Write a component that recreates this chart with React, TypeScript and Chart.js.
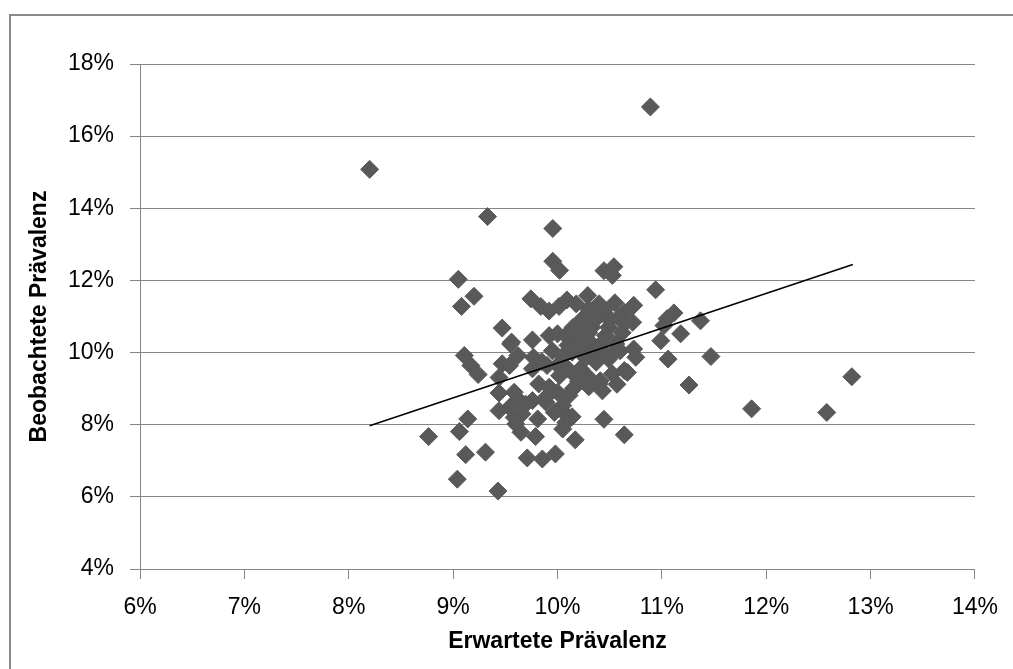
import React, { useEffect, useRef } from "react";
import { Chart, registerables } from "chart.js";

Chart.register(...registerables);

// Erwartete Prävalenz (%) – x values
const expected: number[] = [
  8.20, 10.89, 9.33, 9.955, 9.955, 10.02, 9.05, 9.20, 9.08, 10.445,
  10.54, 10.525, 10.94, 9.745, 9.84, 9.92, 10.015, 10.09, 10.29, 9.47,
  9.107, 9.17, 9.24, 9.55, 9.76, 9.47, 9.62, 9.44, 9.62, 9.44,
  9.585, 9.14, 9.06, 8.765, 9.65, 9.79, 9.12, 9.31, 9.71, 9.855,
  9.98, 9.04, 9.43, 10.05, 10.14, 10.05, 10.17, 9.89, 9.92, 9.76,
  10.40, 10.73, 10.64, 11.115, 11.05, 11.02, 11.37, 11.18, 10.99, 10.75,
  11.06, 11.47, 11.26, 11.86, 12.58, 12.82, 10.445, 10.64, 10.40, 10.57,
  10.67, 10.525, 10.37, 10.24, 10.59, 10.21, 10.33, 10.49, 10.64, 10.72,
  10.16, 10.30, 10.46, 10.56, 10.73, 9.56, 9.92, 10.00, 10.08, 10.14,
  9.77, 9.585, 9.54, 9.66, 9.60, 9.81, 9.89, 9.97, 10.05, 10.08,
  9.82, 9.76, 9.90, 10.02, 10.11, 9.54, 9.44, 10.64, 10.525, 10.41,
  10.43, 10.30, 10.17, 10.22, 10.37, 10.49, 9.695, 9.95, 10.05, 10.10,
  10.22, 10.27, 10.36, 10.42, 10.30, 10.15, 10.25, 10.36, 9.85, 10.00,
  10.10, 10.20, 10.30, 10.15, 10.00, 10.45, 10.60, 10.62, 10.45, 10.55,
  10.30, 10.18, 10.50, 10.445,
];

// Beobachtete Prävalenz (%) – y values
const observed: number[] = [
  15.08, 16.81, 13.77, 13.44, 12.53, 12.28, 12.03, 11.56, 11.28, 12.27,
  12.38, 12.14, 11.74, 11.49, 11.28, 11.15, 11.28, 11.46, 11.58, 10.68,
  9.92, 9.64, 9.39, 10.24, 10.35, 9.69, 9.92, 8.88, 8.71, 8.39,
  8.20, 8.16, 7.81, 7.67, 7.79, 7.67, 7.17, 7.24, 7.08, 7.05,
  7.19, 6.49, 6.16, 8.37, 8.22, 7.88, 7.58, 8.76, 9.04, 8.67,
  11.35, 11.31, 11.12, 11.10, 10.94, 10.75, 10.88, 10.52, 10.33, 9.87,
  9.82, 9.89, 9.10, 8.44, 8.34, 9.33, 8.15, 7.72, 9.13, 9.12,
  9.45, 9.96, 11.03, 10.94, 10.98, 10.56, 10.70, 10.70, 10.80, 10.84,
  10.24, 10.33, 10.47, 10.24, 10.10, 10.29, 10.47, 10.52, 10.47, 10.01,
  9.87, 8.90, 8.48, 8.30, 8.02, 8.16, 8.62, 8.34, 8.53, 8.06,
  9.13, 9.55, 9.64, 9.36, 8.81, 9.64, 9.31, 9.50, 9.41, 9.22,
  8.94, 9.31, 9.36, 9.55, 9.73, 9.82, 8.57, 10.05, 9.90, 10.20,
  10.10, 9.85, 10.05, 10.25, 10.55, 10.70, 10.85, 10.90, 9.75, 9.65,
  9.55, 9.20, 9.05, 9.00, 8.90, 10.00, 10.05, 10.55, 11.10, 11.38,
  11.20, 11.35, 10.90, 11.19,
];

// Linear trend line end points (%)
const trendX: number[] = [8.20, 12.83];
const trendY: number[] = [7.97, 12.44];

const xTitle = "Erwartete Prävalenz";
const yTitle = "Beobachtete Prävalenz";

const FONT = "'Liberation Sans', Arial, sans-serif";
const GRID = "#868686";

export default function App() {
  const ref = useRef<HTMLCanvasElement | null>(null);

  useEffect(() => {
    if (!ref.current) return;
    const points = expected.map((x, i) => ({ x, y: observed[i] }));
    const trend = trendX.map((x, i) => ({ x, y: trendY[i] }));
    const chart = new Chart(ref.current, {
      type: "scatter",
      data: {
        datasets: [
          {
            label: "Trend",
            data: trend,
            showLine: true,
            borderColor: "#000000",
            borderWidth: 1.5,
            pointRadius: 0,
            pointHoverRadius: 0,
            order: 0,
          },
          {
            label: "Prävalenz",
            data: points,
            pointStyle: "rectRot",
            pointRadius: 9,
            pointHoverRadius: 9,
            backgroundColor: "#595959",
            borderColor: "#595959",
            borderWidth: 1,
            order: 1,
          },
        ],
      },
      options: {
        responsive: false,
        animation: false,
        events: [],
        layout: { padding: { left: 0, top: 64, right: 36, bottom: 0 } },
        plugins: {
          legend: { display: false },
          tooltip: { enabled: false },
        },
        scales: {
          x: {
            type: "linear",
            min: 6,
            max: 14,
            ticks: {
              stepSize: 1,
              callback: (v: any) => `${v}%`,
              color: "#000",
              font: { family: FONT, size: 23 },
              padding: 15,
              maxRotation: 0,
            },
            grid: {
              drawOnChartArea: false,
              drawTicks: true,
              tickLength: 10,
              color: GRID,
              lineWidth: 1,
            },
            border: { display: true, color: GRID, width: 1 },
            title: {
              display: true,
              text: xTitle,
              color: "#000",
              font: { family: FONT, size: 23, weight: "bold" },
              padding: { top: 4, bottom: 14 },
            },
            afterFit: (s: any) => {
              s.height = 100;
            },
          },
          y: {
            type: "linear",
            min: 4,
            max: 18,
            ticks: {
              stepSize: 2,
              callback: (v: any) => `${v}%`,
              color: "#000",
              font: { family: FONT, size: 23 },
              padding: 16,
            },
            grid: {
              drawOnChartArea: true,
              drawTicks: true,
              tickLength: 10,
              color: GRID,
              lineWidth: 1,
            },
            border: { display: true, color: GRID, width: 1 },
            title: {
              display: true,
              text: yTitle,
              color: "#000",
              font: { family: FONT, size: 23, weight: "bold" },
              padding: { top: 26, bottom: 0 },
            },
            afterFit: (s: any) => {
              s.width = 140;
            },
          },
        },
      },
    });
    return () => chart.destroy();
  }, []);

  return (
    <div style={{ position: "absolute", left: 0, top: 0, width: 1013, height: 669, overflow: "hidden", background: "#fff" }}>
      <div
        style={{
          position: "absolute",
          left: 9,
          top: 14,
          width: 1004,
          height: 655,
          borderLeft: "2px solid #8a8a8a",
          borderTop: "2px solid #8a8a8a",
          boxSizing: "border-box",
        }}
      />
      <canvas
        ref={ref}
        width={1013}
        height={669}
        style={{ position: "absolute", left: 0, top: 0, width: 1013, height: 669 }}
      />
    </div>
  );
}
